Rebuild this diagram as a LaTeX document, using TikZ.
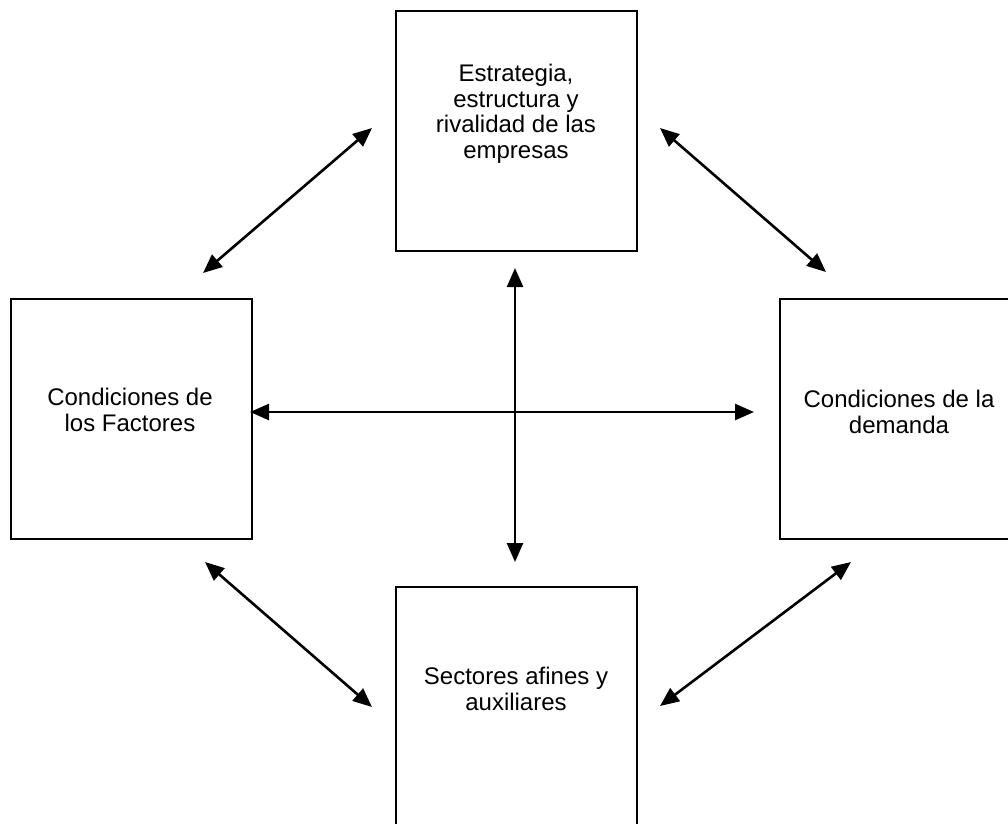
\documentclass[tikz,border=0pt]{standalone}
\usepackage{fontspec}
\setmainfont{Liberation Sans}
\usetikzlibrary{arrows.meta, positioning}

\begin{document}
\begin{tikzpicture}[
  x=1pt, y=-1pt,
  box/.style={draw=black, line width=2pt, minimum width=241pt,
              minimum height=240pt, inner sep=0pt},
  txt/.style={align=center, font=\fontsize{24}{25.5}\selectfont},
  arrow/.style={{Triangle[length=19pt,width=16pt]}-{Triangle[length=19pt,width=16pt]},
                line width=2.6pt}
]
  \useasboundingbox (0,0) rectangle (1008,823);
  \clip (0,0) rectangle (1008,823);

  \node[box, anchor=north west] (estr) at (395,10) {};
  \node[box, anchor=north west] (fact) at (10,298) {};
  \node[box, anchor=north west] (dem)  at (779,298) {};
  \node[box, anchor=north west] (sect) at (395,586) {};

  \node[txt] (estrtxt) at (516,114) {Estrategia,\\estructura y\\rivalidad de las\\empresas};
  \node[txt] (facttxt) at (130,410) {Condiciones de\\los Factores};
  \node[txt] (demtxt)  at (899,412) {Condiciones de la\\demanda};
  \node[txt] (secttxt) at (516,689) {Sectores afines y\\auxiliares};

  % arrow ends
  \coordinate (tla) at (372,128);
  \coordinate (tlb) at (203,273);
  \coordinate (tra) at (660,128);
  \coordinate (trb) at (826,272);
  \coordinate (bla) at (205,562);
  \coordinate (blb) at (372,707);
  \coordinate (bra) at (660,706);
  \coordinate (brb) at (851,562);
  \coordinate (va)  at (515,268);
  \coordinate (vb)  at (515,562);
  \coordinate (ha)  at (250,412);
  \coordinate (hb)  at (754,412);

  \draw[arrow] (tla) -- (tlb);
  \draw[arrow] (tra) -- (trb);
  \draw[arrow] (bla) -- (blb);
  \draw[arrow] (bra) -- (brb);
  \draw[arrow] (va) -- (vb);
  \draw[arrow] (ha) -- (hb);
\end{tikzpicture}
\end{document}
